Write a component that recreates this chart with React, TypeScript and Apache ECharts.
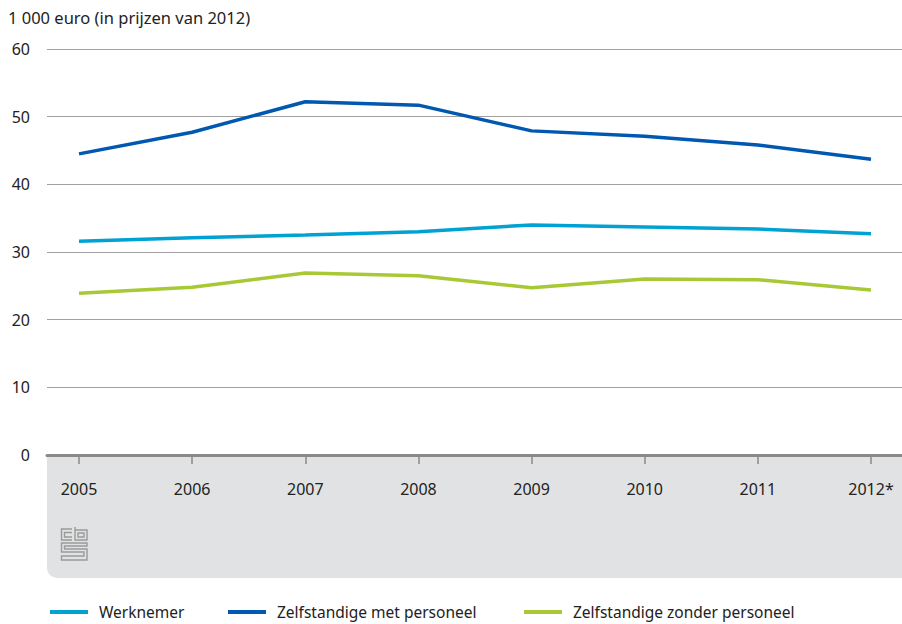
import React, { useEffect, useRef } from "react";
import * as echarts from "echarts";

const years = ["2005", "2006", "2007", "2008", "2009", "2010", "2011", "2012*"];
const werknemer = [31.6, 32.1, 32.5, 33.0, 34.0, 33.7, 33.4, 32.7];
const metPersoneel = [44.5, 47.7, 52.2, 51.7, 47.9, 47.1, 45.8, 43.7];
const zonderPersoneel = [23.9, 24.8, 26.9, 26.5, 24.7, 26.0, 25.9, 24.4];
const seriesNames = ["Werknemer", "Zelfstandige met personeel", "Zelfstandige zonder personeel"];
const colors = ["#00a2d3", "#0058b0", "#a8c935"];
const unitLabel = "1 000 euro (in prijzen van 2012)";
const legendLefts = [45, 223, 519];

const logoPath =
  "M11 2 H0.5 V13 H11 M11 5.5 H3.5 V10 H11 " +
  "M14 0 V13 H26 V3 H14 M17 6 H23 V10 H17 Z " +
  "M26 16 H0.5 V25 H23 V29 H0.5 V33 H26 V22 H3.5 V19 H26 Z";

echarts.graphic.registerShape("cbslogo", (echarts.graphic as any).extendPath(logoPath, {}));

export default function App() {
  const ref = useRef<HTMLDivElement>(null);
  useEffect(() => {
    if (!ref.current) return;
    const chart = echarts.init(ref.current, undefined, { renderer: "svg" });
    const font = "'Noto Sans', sans-serif";
    chart.setOption({
      animation: false,
      textStyle: { fontFamily: font },
      graphic: [
        {
          type: "rect",
          z: -10,
          shape: { x: 47, y: 456, width: 855, height: 122, r: [0, 0, 0, 10] },
          style: { fill: "#e1e2e4" },
        },
        {
          type: "text",
          left: 8,
          top: 9,
          style: { text: unitLabel, fontSize: 16.5, fill: "#222", fontFamily: font },
        },
        {
          type: "cbslogo",
          x: 61,
          y: 527,
          scaleX: 1,
          scaleY: 1,
          style: { fill: "none", stroke: "#9a9a9a", lineWidth: 1.4 },
        } as any,
      ],
      legend: seriesNames.map((name, i) => ({
        left: legendLefts[i],
        bottom: -1,
        itemWidth: 38,
        itemHeight: 4,
        icon: "rect",
        textStyle: { fontSize: 15.5, color: "#222", fontFamily: font, padding: [0, 0, 0, 6] },
        data: [name],
      })),
      grid: [
        { left: 47, right: 0, top: 49, bottom: 169 },
        { left: 79, right: 31, top: 49, bottom: 169 },
      ],
      xAxis: [
        {
          gridIndex: 0,
          type: "category",
          data: years,
          axisLine: { show: true, lineStyle: { color: "#8a8a8a", width: 3 } },
          axisTick: { show: false },
          axisLabel: { show: false },
          splitLine: { show: false },
        },
        {
          gridIndex: 1,
          type: "category",
          data: years,
          boundaryGap: false,
          axisLine: { show: false },
          axisTick: { show: true, alignWithLabel: true, length: 9, lineStyle: { color: "#8a8a8a", width: 1.5 } },
          axisLabel: { fontSize: 16, color: "#222", margin: 26, fontFamily: font },
          splitLine: { show: false },
        },
      ],
      yAxis: [
        {
          gridIndex: 0,
          type: "value",
          min: 0,
          max: 60,
          interval: 10,
          axisLine: { show: false },
          axisTick: { show: false },
          axisLabel: { fontSize: 16, color: "#222", margin: 17, fontFamily: font },
          splitLine: { lineStyle: { color: "#a0a0a0", width: 1 } },
        },
        {
          gridIndex: 1,
          type: "value",
          min: 0,
          max: 60,
          interval: 10,
          show: false,
          splitLine: { show: false },
        },
      ],
      series: [
        { name: seriesNames[0], data: werknemer },
        { name: seriesNames[1], data: metPersoneel },
        { name: seriesNames[2], data: zonderPersoneel },
      ].map((s, i) => ({
        ...s,
        type: "line",
        xAxisIndex: 1,
        yAxisIndex: 1,
        showSymbol: false,
        symbol: "none",
        color: colors[i],
        lineStyle: { color: colors[i], width: 3.5 },
      })),
    });
    return () => chart.dispose();
  }, []);
  return <div ref={ref} style={{ width: 902, height: 624, position: "absolute", left: 0, top: 0 }} />;
}
